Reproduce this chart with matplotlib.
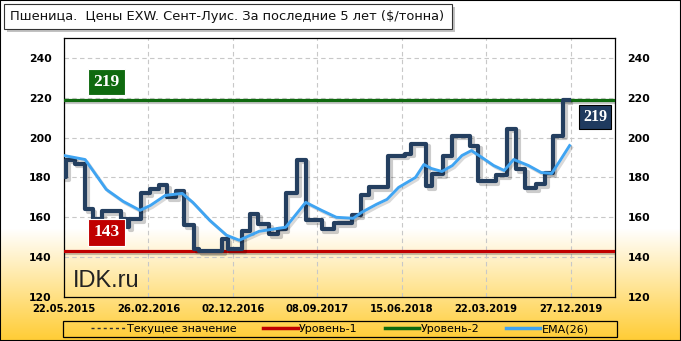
import numpy as np
import matplotlib.pyplot as plt
import matplotlib.patheffects as pe
from matplotlib.patches import Rectangle
from matplotlib.lines import Line2D

# weekly price, stored as step changes (week index from 22.05.2015, $/t)
weeks = [0, 1, 5, 10, 13.5, 18, 27, 30, 31, 36.5, 40.5, 45, 49, 53, 57, 61.5, 64,
         75, 77.5, 84.5, 88, 92, 97, 101.5, 105, 110.5, 114.5, 122, 128, 136.5,
         140.5, 144.5, 153.5, 161.5, 164.5, 171.5, 174.5, 179.5, 184, 192.5, 196,
         204.5, 210, 214, 218.5, 223.5, 228, 231.5, 236.5, 239]
price = [180, 189, 187, 164, 159, 163, 159, 155, 159, 172, 174, 176, 170, 173, 156, 144, 143,
         149, 144, 153, 161.5, 156.5, 151.5, 154, 172, 189, 158.5, 154, 157, 161,
         171, 175, 191, 192, 197, 175.5, 181.5, 191, 201, 196, 178,
         181, 204.5, 184, 174.5, 176.5, 182, 201, 219, 219]

ema_weeks = [0, 10, 14, 20, 28, 36, 41, 48, 56, 61, 69, 77, 83, 92.5, 105, 114.5, 122,
             129, 137, 141, 148, 153, 158.5, 166.5, 170.5, 174, 179, 184, 188.5, 193,
             198, 203.5, 208.5, 213, 220, 226, 231, 235, 239.5]
ema = [191, 189, 183, 174, 168, 163.5, 166, 171, 172, 167.5, 158.5, 151, 148.5, 153, 155, 167.5, 163.5,
       160, 159.5, 162.5, 166.5, 169, 175, 180, 186.5, 184.5, 183, 186, 191, 193.5,
       190, 186, 183.5, 189, 186, 182.5, 182, 188.5, 196]

level_1 = 143
level_2 = 219
current = 219

tick_weeks = [0, 40, 80, 120, 160, 200, 240]
tick_labels = ['22.05.2015', '26.02.2016', '02.12.2016', '08.09.2017',
               '15.06.2018', '22.03.2019', '27.12.2019']
y_ticks = [120, 140, 160, 180, 200, 220, 240]

W, H = 681, 341
fig = plt.figure(figsize=(W / 100, H / 100), dpi=100)

# background: white fading into yellow at the bottom
bg = fig.add_axes([0, 0, 1, 1], zorder=-10)
rows = np.arange(H)
t = np.clip((rows - 228) / (H - 228), 0, 1)
gold = np.array([1.0, 0.80, 0.20])
grad = (1 - t)[:, None] * np.ones(3) + t[:, None] * gold
bg.imshow(grad[:, None, :], aspect='auto', extent=[0, 1, 0, 1])
bg.axis('off')

ax = fig.add_axes([64 / W, 1 - 297 / H, 551 / W, 259 / H])
ax.set_facecolor('none')

shadow = [pe.SimpleLineShadow(offset=(1.5, -1.5), shadow_color='k', alpha=0.22), pe.Normal()]

ax.axhline(current, color='#333333', lw=1, ls=(0, (3, 2)), zorder=2)
ax.axhline(level_1, color='#C00000', lw=2.3, zorder=3, path_effects=shadow)
ax.axhline(level_2, color='#0F6A0F', lw=2.3, zorder=3, path_effects=shadow)
ax.step(weeks, price, where='post', color='#243F60', lw=3.0, zorder=4,
        solid_joinstyle='round', path_effects=[pe.SimpleLineShadow(offset=(2, -2), shadow_color='k', alpha=0.2), pe.Normal()])
ax.plot(ema_weeks, ema, color='#3FA4F2', lw=2.1, zorder=5,
        path_effects=[pe.SimpleLineShadow(offset=(1.5, -1.5), shadow_color='k', alpha=0.15), pe.Normal()])

ax.set_xlim(0, 261)
ax.set_ylim(120, 250)
ax.set_yticks(y_ticks)
ax.set_xticks(tick_weeks)
ax.set_xticklabels(tick_labels)
ax.grid(True, color='#C8C8C8', ls=(0, (4, 3)), lw=0.8)
ax.set_axisbelow(True)
ax.tick_params(axis='y', length=0, pad=9, labelleft=True, labelright=True, labelsize=7.8)
ax.tick_params(axis='x', length=0, pad=5, labelsize=7.2)
for lab in ax.get_xticklabels() + ax.yaxis.get_ticklabels(which='both'):
    lab.set_fontweight('bold')
for tk in ax.yaxis.get_major_ticks():
    tk.label2.set_fontweight('bold')
for s in ax.spines.values():
    s.set_color('k')
    s.set_linewidth(0.9)

# value boxes
box_font = dict(family='Liberation Serif', weight='bold', color='white', ha='center', va='center')
ax.text(20, 227.8, str(level_2), fontsize=12.5, zorder=6,
        bbox=dict(boxstyle='square,pad=0.3', fc='#0F6A0F', ec='white', lw=0.8), **box_font)
ax.text(20, 152.4, str(level_1), fontsize=12.5, zorder=6,
        bbox=dict(boxstyle='square,pad=0.3', fc='#C00000', ec='white', lw=0.8), **box_font)
ax.text(251.5, 210.2, str(current), fontsize=11.5, zorder=6,
        bbox=dict(boxstyle='square,pad=0.25', fc='#1F3A5F', ec='black', lw=0.8), **box_font)

ax.text(0.016, 0.039, 'IDK.ru', transform=ax.transAxes, fontsize=17,
        family='Liberation Sans', color='#222222', va='baseline', zorder=6)

# title box with shadow
fig.patches.append(Rectangle((7 / W, 1 - 32 / H), 448 / W, 25 / H, transform=fig.transFigure,
                             fc='#9a9a9a', ec='none', alpha=0.6, zorder=1))
fig.patches.append(Rectangle((4 / W, 1 - 29 / H), 448 / W, 25 / H, transform=fig.transFigure,
                             fc='white', ec='#333333', lw=0.8, zorder=2))
fig.text(10 / W, 1 - 16.5 / H, 'Пшеница.  Цены EXW. Сент-Луис. За последние 5 лет ($/тонна)',
         fontsize=9.35, va='center', ha='left', color='#111111', zorder=3)

# legend: frame drawn separately, entries centred inside it
fig.patches.append(Rectangle((63 / W, 1 - 337 / H), 554 / W, 16 / H, transform=fig.transFigure,
                             fill=False, ec='k', lw=0.9, zorder=5))
handles = [Line2D([], [], color='#333333', lw=1, ls=(0, (2.2, 2.2))),
           Line2D([], [], color='#C00000', lw=2.5),
           Line2D([], [], color='#0F6A0F', lw=2.5),
           Line2D([], [], color='#3FA4F2', lw=2.5)]
labels = ['Текущее значение', 'Уровень-1', 'Уровень-2', 'EMA(26)']
fig.legend(handles, labels, loc='center', ncol=4,
           bbox_to_anchor=(340 / W, 1 - 329 / H),
           fontsize=8, frameon=False, borderpad=0,
           handlelength=3.1, handletextpad=0.15, columnspacing=2.4, borderaxespad=0)

fig.patches.append(Rectangle((0, 0), 1, 1, transform=fig.transFigure, fill=False, ec='k', lw=1.5, zorder=10))

fig.savefig('out.png', dpi=100)
